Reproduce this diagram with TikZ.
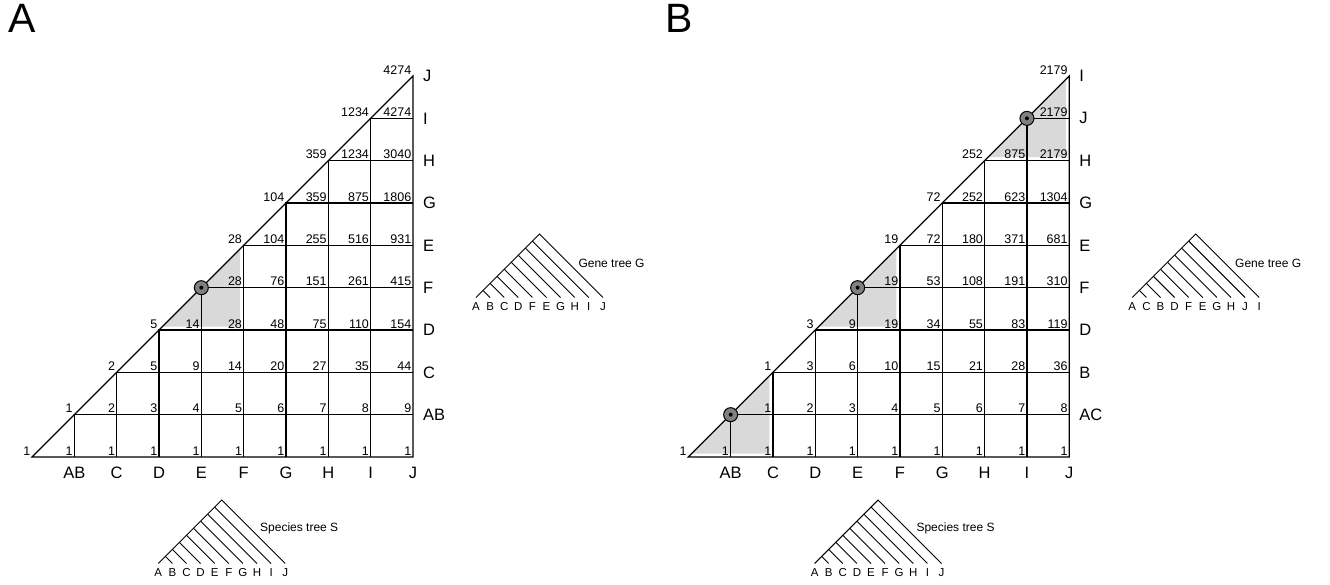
\documentclass[tikz,border=0pt]{standalone}
\usepackage{fontspec}
\setmainfont{Liberation Sans}
\definecolor{hlgray}{HTML}{D9D9D9}
\definecolor{dotgray}{HTML}{808080}
\newcommand\gs{42.33}
\newcommand\ts{14.1}
\tikzset{
  gridline/.style={line width=1.3pt, line join=miter},
  numlab/.style={anchor=south east, inner sep=1.5pt, font=\fontsize{12.5}{12.5}\selectfont},
  rowlab/.style={anchor=west, inner sep=0pt, font=\fontsize{16.5}{16.5}\selectfont},
  collab/.style={anchor=north, inner sep=0pt, font=\fontsize{16.5}{16.5}\selectfont},
  hlfill/.style={fill=hlgray},
  hcirc/.style={circle, draw=black, line width=1pt, fill=dotgray, minimum size=14pt, inner sep=0pt},
  treeline/.style={line width=0.9pt},
  leaflab/.style={anchor=north, inner sep=0pt, font=\fontsize{11.5}{11.5}\selectfont},
  treecap/.style={anchor=west, inner sep=0pt, font=\fontsize{12}{12}\selectfont},
  panellab/.style={anchor=base west, inner sep=0pt, font=\fontsize{41}{41}\selectfont}
}
% #1 prefix, #2 row j, #3 first column, #4 values
\newcommand\rowvals[4]{\foreach \v [count=\c from #3] in {#4} {\node[numlab] (#1n\c-#2) at ({\c*\gs},{-#2*\gs}) {\v};}}
\newcommand\gridlines{%
  \draw[gridline] (0,0) -- ({9*\gs},0) -- ({9*\gs},{-9*\gs}) -- cycle;
  \foreach \k in {1,...,8} {\draw[gridline] ({\k*\gs},0) -- ({\k*\gs},{-\k*\gs}) -- ({9*\gs},{-\k*\gs});}
}
\newcommand\hlzone[1]{%
  \fill[hlfill] ({(#1-1)*\gs+3.5},{-(#1-1)*\gs-3.5}) -- ({(#1+1)*\gs-3.5},{-(#1+1)*\gs+3.5}) -- ({(#1+1)*\gs-3.5},{-(#1-1)*\gs-3.5}) -- cycle;
}
% #1 prefix, #2 k
\newcommand\hlcirc[2]{%
  \node[hcirc] (#1c#2) at ({#2*\gs},{-#2*\gs}) {};
  \fill (#1c#2.center) circle (2);
}
% #1 name, #2 x0, #3 yb, #4 labels
\newcommand\cater[4]{%
  \draw[treeline] (#2,#3) -- ({#2+4.5*\ts},{#3-4.5*\ts}) -- ({#2+9*\ts},#3);
  \foreach \k in {1,...,8} {\draw[treeline] ({#2+\k*\ts},#3) -- ({#2+\k*\ts/2},{#3-\k*\ts/2});}
  \foreach \lab [count=\k from 0] in {#4} {\node[leaflab] (#1l\k) at ({#2+\k*\ts},{#3+5}) {\lab};}
}
\begin{document}
\begin{tikzpicture}[x=1pt,y=-1pt]
\useasboundingbox (0,0) rectangle (1330,585);
\node[panellab] (labA) at (8,33) {A};
\node[panellab] (labB) at (665,33) {B};

% ---------------- Panel A ----------------
\begin{scope}[shift={(32,457)}]
  \hlzone{4}
  \gridlines
  \hlcirc{A}{4}
  \rowvals{A}{0}{0}{1,1,1,1,1,1,1,1,1,1}
  \rowvals{A}{1}{1}{1,2,3,4,5,6,7,8,9}
  \rowvals{A}{2}{2}{2,5,9,14,20,27,35,44}
  \rowvals{A}{3}{3}{5,14,28,48,75,110,154}
  \rowvals{A}{4}{5}{28,76,151,261,415}
  \rowvals{A}{5}{5}{28,104,255,516,931}
  \rowvals{A}{6}{6}{104,359,875,1806}
  \rowvals{A}{7}{7}{359,1234,3040}
  \rowvals{A}{8}{8}{1234,4274}
  \rowvals{A}{9}{9}{4274}
  \foreach \lab [count=\j] in {AB,C,D,F,E,G,H,I,J}
    {\node[rowlab] (Ar\j) at ({9*\gs+10},{-\j*\gs}) {\lab};}
  \foreach \lab [count=\i] in {AB,C,D,E,F,G,H,I,J}
    {\node[collab] (Acol\i) at ({\i*\gs},10) {\lab};}
\end{scope}
\cater{AS}{158.3}{563.5}{A,B,C,D,E,F,G,H,I,J}
\node[treecap] (AScap) at (260,528.7) {Species tree S};
\cater{AG}{476}{297.5}{A,B,C,D,F,E,G,H,I,J}
\node[treecap] (AGcap) at (578.3,263.3) {Gene tree G};

% ---------------- Panel B ----------------
\begin{scope}[shift={(688.3,457)}]
  \hlzone{1}
  \hlzone{4}
  \hlzone{8}
  \gridlines
  \hlcirc{B}{1}
  \hlcirc{B}{4}
  \hlcirc{B}{8}
  \rowvals{B}{0}{0}{1,1,1,1,1,1,1,1,1,1}
  \rowvals{B}{1}{2}{1,2,3,4,5,6,7,8}
  \rowvals{B}{2}{2}{1,3,6,10,15,21,28,36}
  \rowvals{B}{3}{3}{3,9,19,34,55,83,119}
  \rowvals{B}{4}{5}{19,53,108,191,310}
  \rowvals{B}{5}{5}{19,72,180,371,681}
  \rowvals{B}{6}{6}{72,252,623,1304}
  \rowvals{B}{7}{7}{252,875,2179}
  \rowvals{B}{8}{9}{2179}
  \rowvals{B}{9}{9}{2179}
  \foreach \lab [count=\j] in {AC,B,D,F,E,G,H,J,I}
    {\node[rowlab] (Br\j) at ({9*\gs+10},{-\j*\gs}) {\lab};}
  \foreach \lab [count=\i] in {AB,C,D,E,F,G,H,I,J}
    {\node[collab] (Bcol\i) at ({\i*\gs},10) {\lab};}
\end{scope}
\cater{BS}{814.6}{563.5}{A,B,C,D,E,F,G,H,I,J}
\node[treecap] (BScap) at (916.3,528.7) {Species tree S};
\cater{BG}{1132.3}{297.5}{A,C,B,D,F,E,G,H,J,I}
\node[treecap] (BGcap) at (1235,263.3) {Gene tree G};
\end{tikzpicture}
\end{document}
